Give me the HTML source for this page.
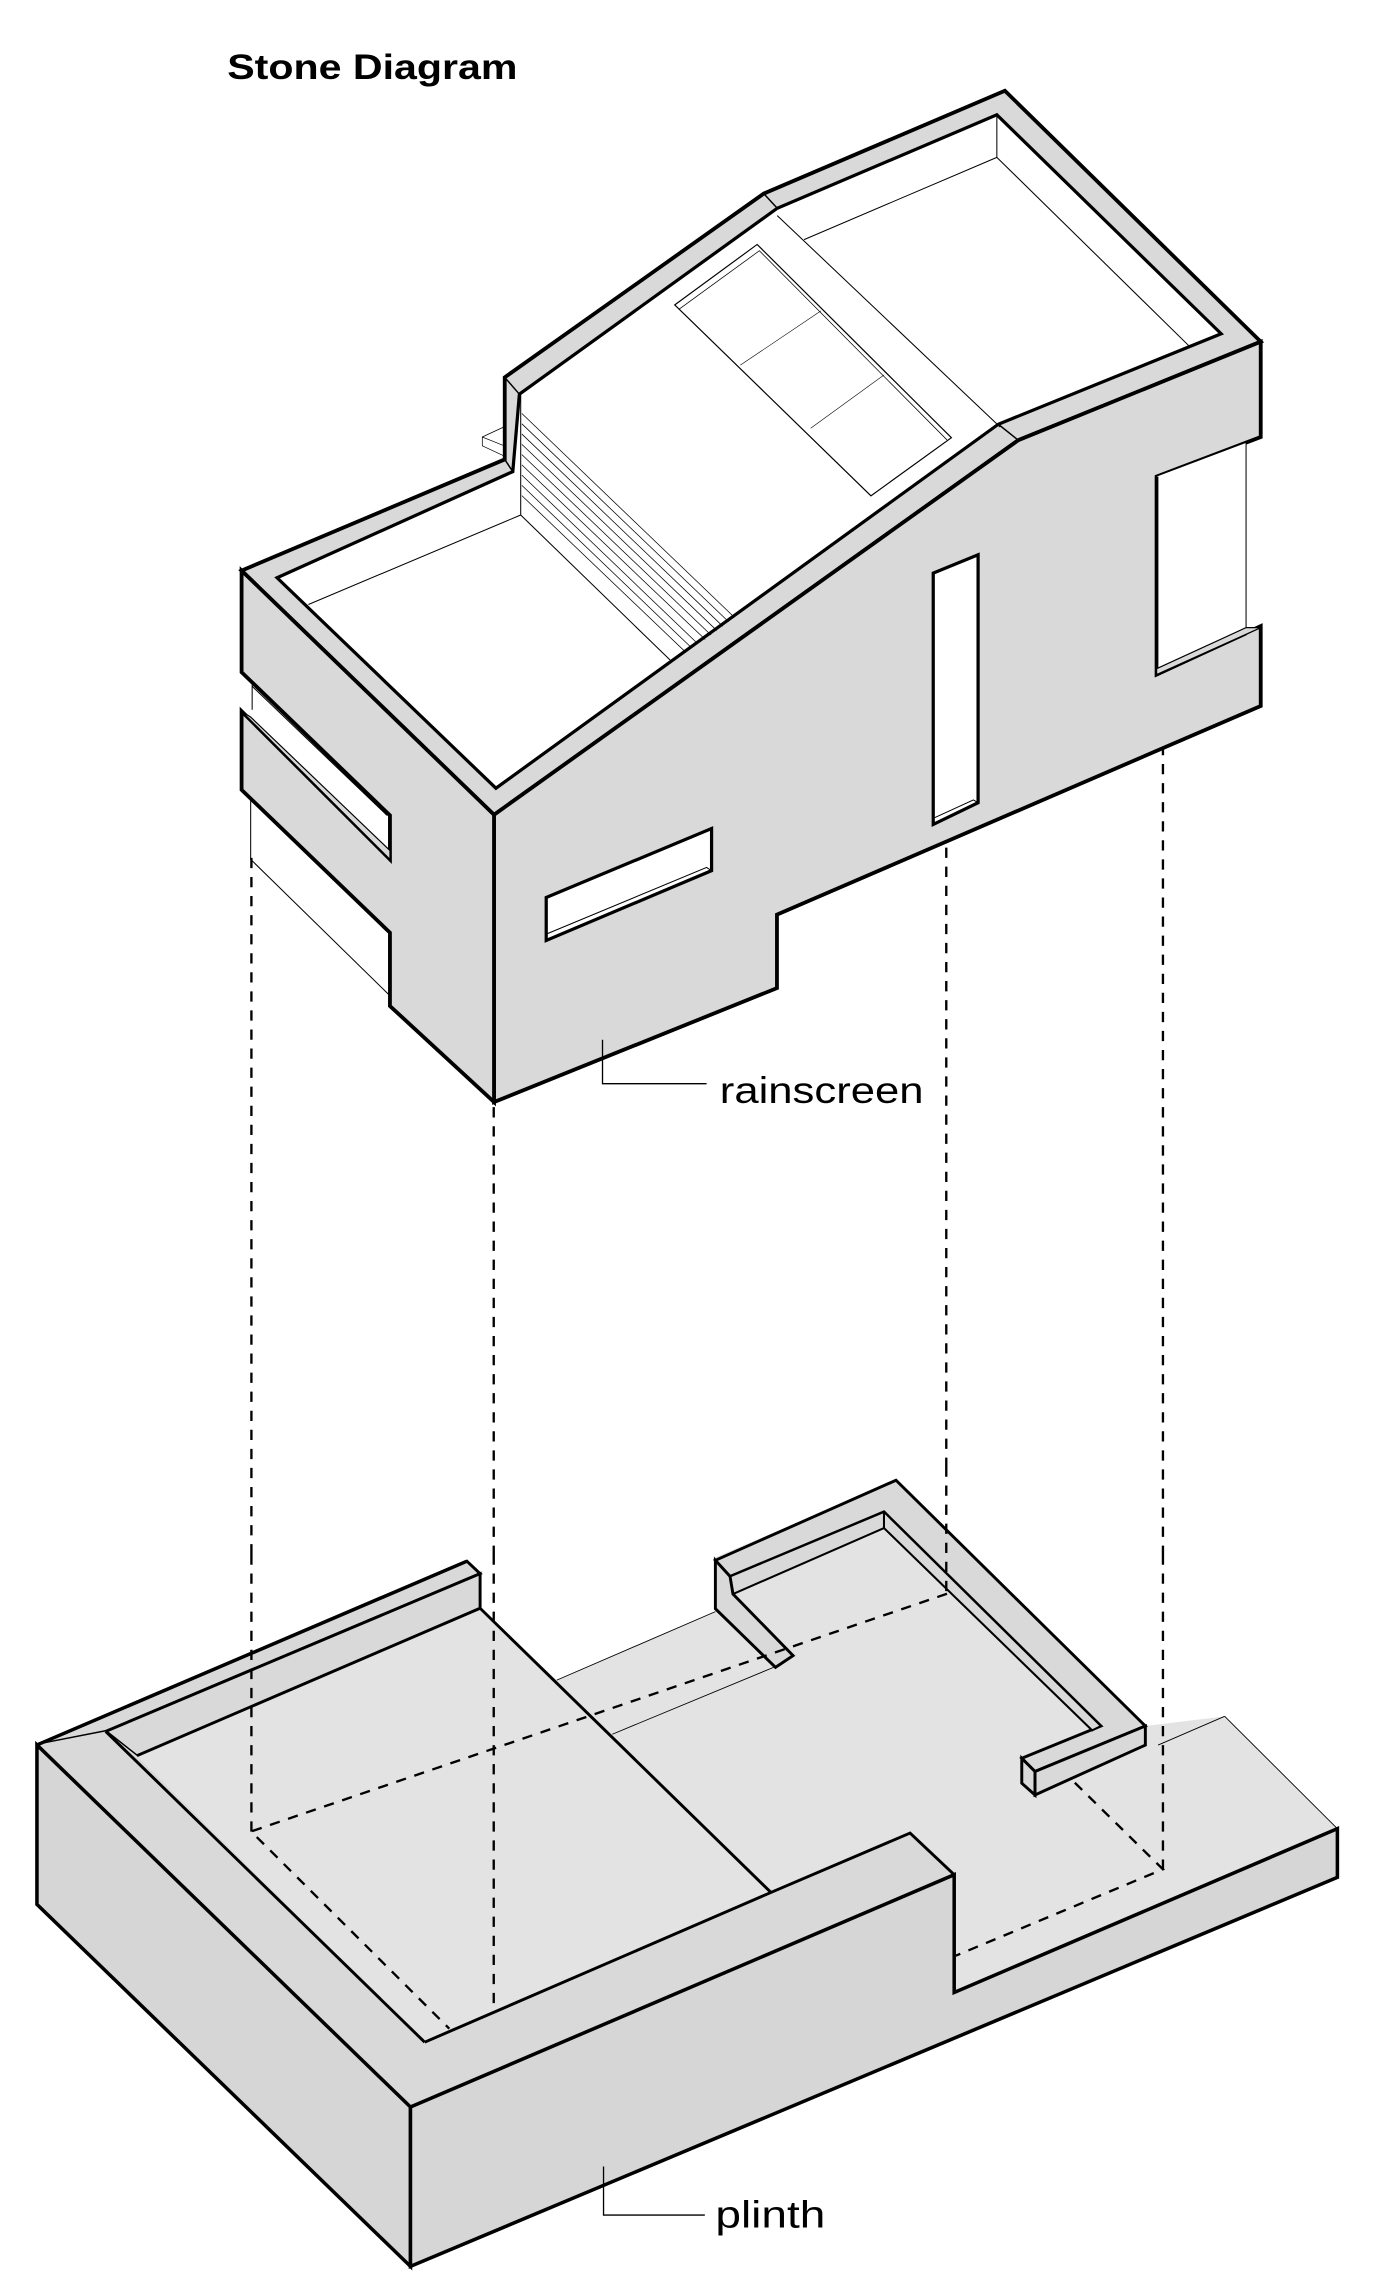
<!DOCTYPE html>
<html><head><meta charset="utf-8"><style>
html,body{margin:0;padding:0;background:#fff;}
svg{display:block;}
</style></head><body>
<svg width="1378" height="2295" viewBox="0 0 940 1565" preserveAspectRatio="none" xmlns="http://www.w3.org/2000/svg">
<rect width="940" height="1565" fill="#fff"/>
<text x="155" y="54" font-family="Liberation Sans, sans-serif" font-weight="bold" font-size="24" textLength="198" lengthAdjust="spacingAndGlyphs">Stone Diagram</text>

<!-- dashed projection lines (upper part) -->
<g stroke="#000" stroke-width="1.6" stroke-dasharray="7,6" fill="none">
<line x1="171.5" y1="585" x2="171.5" y2="1060"/>
<line x1="336.8" y1="755" x2="336.8" y2="1060"/>
<line x1="645.5" y1="565" x2="645.5" y2="1000"/>
<line x1="793.3" y1="508" x2="793.3" y2="1060"/>
</g>

<!-- ============ RAINSCREEN ============ -->
<g stroke-linejoin="miter">
<polygon points="164.8,389.1 344.3,313.3 344.3,257.3 521,132 685.5,61.9 860,233 694.6,300.2 337,555.6" fill="#d9d9d9" stroke="#000" stroke-width="2.6"/>
<polygon points="189,394 349.8,321.6 354.3,268.8 530.2,142 680,78.3 833,227.6 681,289.3 338.3,537.5" fill="#fff" stroke="#000" stroke-width="2.2"/>
<g stroke="#000" stroke-width="1" fill="none">
<line x1="344.3" y1="257.3" x2="354.3" y2="268.8"/>
<line x1="344.3" y1="313.3" x2="349.8" y2="321.6"/>
<line x1="521" y1="132" x2="530.2" y2="142"/>
<line x1="681" y1="289.3" x2="694.6" y2="300.2"/>
</g>
<g stroke="#000" stroke-width="0.7" fill="none">
<polyline points="210.4,412.2 355.2,351.2 355.2,269"/>
<line x1="355.2" y1="351.2" x2="457.1" y2="450.1"/>
<line x1="530.2" y1="147" x2="682.3" y2="291.3"/>
<polyline points="548.5,163.4 680,107.3 680,78.3"/>
<line x1="680" y1="107.3" x2="811.1" y2="235.9"/>
</g>
<!-- stairs: parallel lines -->
<g stroke="#000" stroke-width="0.5" fill="none">
<line x1="356" y1="282" x2="501" y2="421"/>
<line x1="356" y1="289" x2="497" y2="424"/>
<line x1="356" y1="296" x2="493" y2="427"/>
<line x1="356" y1="303" x2="489" y2="430"/>
<line x1="356" y1="310" x2="485" y2="433"/>
<line x1="356" y1="317" x2="481" y2="436"/>
<line x1="356" y1="324" x2="476" y2="439"/>
<line x1="356" y1="331" x2="472" y2="442"/>
<line x1="356" y1="338" x2="468" y2="445"/>
<polyline points="344,304 329,298 329,304 344,311"/>
<line x1="329" y1="298" x2="344" y2="291"/>
</g>
<!-- skylight -->
<g stroke="#000" fill="none">
<polygon points="460.3,207.9 516.5,166.7 649,298.5 594.1,338.1" stroke-width="0.8"/>
<polyline points="463,211 518,171 646,300" stroke-width="0.5"/>
<line x1="505" y1="249" x2="560" y2="212" stroke-width="0.4"/>
<line x1="553" y1="292" x2="603" y2="255.7" stroke-width="0.4"/>
</g>

<!-- front face -->
<polygon points="337,555.6 694.6,300.2 860,233 860,298 789,325 789,460 860,427 860,481.4 530,623.7 530,673.8 337,751.5" fill="#d9d9d9" stroke="#000" stroke-width="2.6"/>
<polygon points="789,325 850,302 850,430 789,460" fill="#fff" stroke="none"/>
<polyline points="850,302 850,430" stroke="#000" stroke-width="0.7" fill="none"/>
<polyline points="789,325 789,460 850,432" stroke="#000" stroke-width="2.4" fill="none"/>
<polygon points="789,456 850,428 860,428 789,460" fill="#d9d9d9" stroke="#000" stroke-width="0.8"/>
<line x1="860" y1="298" x2="850" y2="302" stroke="#000" stroke-width="1.4"/>

<polygon points="636.6,390.8 667.2,378.3 667.2,547.4 636.6,562.2" fill="#fff" stroke="#000" stroke-width="2.2"/>
<polyline points="636.6,558 664,545.5 667.2,547.4" fill="none" stroke="#000" stroke-width="0.7"/>
<polygon points="372.6,612 485.4,565 485.4,593.7 372.6,641.3" fill="#fff" stroke="#000" stroke-width="2.2"/>
<polyline points="372.6,637 482,591.5 485.4,593.7" fill="none" stroke="#000" stroke-width="0.7"/>

<!-- left face -->
<polygon points="164.8,389.1 337,555.6 337,751.5 266,686 266,636 164.8,538.6 164.8,485 266,586 266,556 164.8,458.4" fill="#d9d9d9" stroke="#000" stroke-width="2.6"/>
<g stroke="#000" stroke-width="0.7" fill="none">
<polyline points="171,545 171,586 266,679"/>
<line x1="172" y1="466" x2="172" y2="484"/>
<line x1="172" y1="468" x2="264" y2="556"/>
<line x1="171" y1="492" x2="264" y2="582"/>
</g>
<polygon points="164.8,485 171,489 266,580 266,586" fill="#d9d9d9" stroke="#000" stroke-width="0.8"/>

<polyline points="411,709 411,739 482,739" fill="none" stroke="#000" stroke-width="0.9"/>
<text x="491" y="752" font-family="Liberation Sans, sans-serif" font-size="25" textLength="139" lengthAdjust="spacingAndGlyphs">rainscreen</text>
</g>

<!-- ============ PLINTH ============ -->
<g stroke-linejoin="miter">
<polygon points="25.2,1189.9 318.5,1064.6 327.5,1073.1 327.5,1096.7 379.8,1145.7 488,1099 488,1062 611.2,1009.4 781.3,1177 835.4,1170.4 912.3,1247 650.9,1358.7 650.9,1278.4 280,1436.8" fill="#e3e3e3" stroke="none"/>
<!-- back-left low wall -->
<polygon points="25.2,1189.9 318.5,1064.6 327.5,1073.1 72.1,1180.7" fill="#d9d9d9" stroke="#000" stroke-width="2"/>
<polygon points="72.1,1180.7 327.5,1073.1 327.5,1096.7 93.2,1197.3" fill="#d9d9d9" stroke="#000" stroke-width="2"/>
<polygon points="25.2,1189.9 72.1,1180.7 93.2,1197.3 289.7,1392.6 280,1436.8" fill="#d9d9d9" stroke="none"/>
<line x1="72.1" y1="1180.7" x2="289.7" y2="1392.6" stroke="#000" stroke-width="2"/>
<polygon points="289.7,1392.6 620.8,1250 650.9,1278.4 280,1436.8" fill="#d9d9d9" stroke="none"/>
<polyline points="289.7,1392.6 525.9,1290.5 620.8,1250 650.9,1278.4" fill="none" stroke="#000" stroke-width="2"/>
<line x1="327.5" y1="1096.7" x2="525.9" y2="1290.5" stroke="#000" stroke-width="2"/>
<g stroke="#000" stroke-width="0.6">
<line x1="379.8" y1="1145.7" x2="488" y2="1099"/>
<line x1="417.7" y1="1182.6" x2="528.9" y2="1136.5"/>
<line x1="835.4" y1="1170.4" x2="912.3" y2="1247"/>
<line x1="835.4" y1="1170.4" x2="790" y2="1190"/>
</g>
<!-- U wall: top band -->
<polygon points="488,1064 611.2,1009.4 781.3,1177 706,1208 697,1199 751,1177 603,1031 498,1075" fill="#d9d9d9" stroke="#000" stroke-width="2"/>
<!-- inner face of back wall and right arm -->
<polygon points="498,1075 603,1031 751,1177 745,1180 603,1042 500,1087" fill="#d9d9d9" stroke="#000" stroke-width="1.4"/>
<line x1="603" y1="1031" x2="603" y2="1042" stroke="#000" stroke-width="1.4"/>
<!-- left arm -->
<polygon points="488,1064 498,1075 500,1087 541,1129 529,1137 488,1097" fill="#d9d9d9" stroke="#000" stroke-width="2"/>
<line x1="500" y1="1087" x2="529" y2="1137" stroke="#000" stroke-width="0"/>
<!-- right arm front and end -->
<polygon points="706,1208 781.3,1177 781.3,1190 706,1224" fill="#d9d9d9" stroke="#000" stroke-width="2"/>
<polygon points="697,1199 706,1208 706,1224 697,1216" fill="#d9d9d9" stroke="#000" stroke-width="2"/>
<!-- dashed footprint -->
<g stroke="#000" stroke-width="1.6" stroke-dasharray="7,6" fill="none">
<polyline points="646,1086.8 171.3,1248.9 306.5,1383.4"/>
<polyline points="733.2,1215.7 793.3,1274.7 652,1333.6"/>
<line x1="171.5" y1="1060" x2="171.5" y2="1249"/>
<line x1="336.8" y1="1060" x2="336.8" y2="1373"/>
<line x1="645.5" y1="1000" x2="645.5" y2="1087"/>
<line x1="793.3" y1="1060" x2="793.3" y2="1275"/>
</g>
<polygon points="25.2,1189.9 280,1436.8 280,1545.5 25.2,1298.6" fill="#d6d6d6" stroke="#000" stroke-width="2.4"/>
<polygon points="280,1436.8 650.9,1278.4 650.9,1358.7 912.3,1247 912.3,1280.2 280,1545.5" fill="#d6d6d6" stroke="#000" stroke-width="2.4"/>
<line x1="25.2" y1="1189.9" x2="318.5" y2="1064.6" stroke="#000" stroke-width="2.4"/>
<polyline points="411.7,1477.4 411.7,1510.5 480.8,1510.5" fill="none" stroke="#000" stroke-width="0.9"/>
<text x="488" y="1519" font-family="Liberation Sans, sans-serif" font-size="26" textLength="75" lengthAdjust="spacingAndGlyphs">plinth</text>
</g>
</svg>
</body></html>
